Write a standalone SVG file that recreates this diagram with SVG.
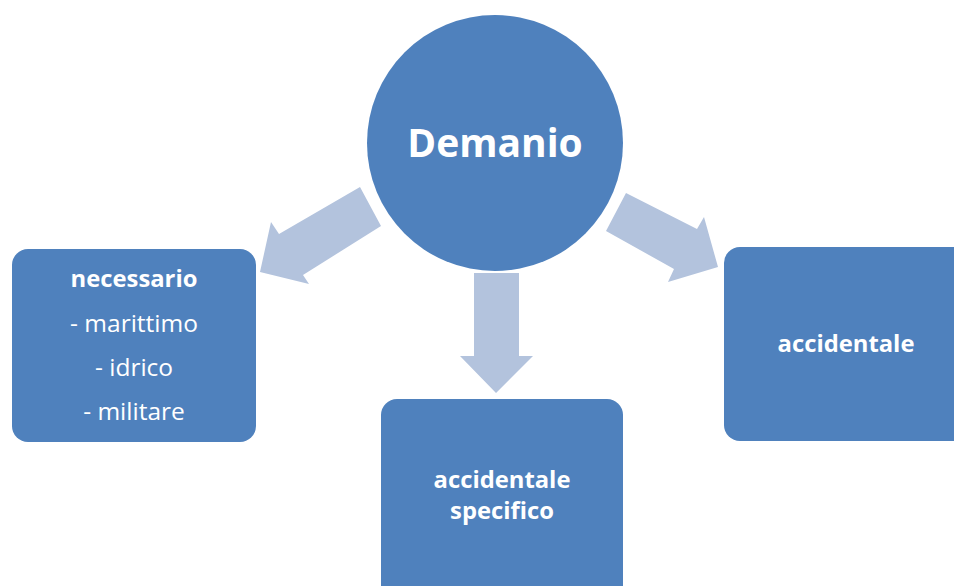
<svg xmlns="http://www.w3.org/2000/svg" width="954" height="586" viewBox="0 0 954 586">
<style>
.box{fill:#4F81BD}
.arr{fill:#B3C3DD}
text{font-family:"Open Sans","Noto Sans","Liberation Sans",sans-serif;fill:#FFFFFF;text-anchor:middle}
.b{font-weight:bold;font-size:23.8px}
.n{font-size:24.5px}
.t{font-weight:bold;font-size:39px}
</style>
<rect width="954" height="586" fill="#FFFFFF"/>
<g id="connectors">
<polygon class="arr" points="360,187 381,226 303,275 309,284 260,272 271,222 279,234"/>
<polygon class="arr" points="626,193 606,231 674,269 668,282 718,267 704,217 697,229"/>
<polygon class="arr" points="474,273 519,273 519,356 533,356 496,393 460,356 474,356"/>
</g>
<g id="demanio">
<circle class="box" cx="495" cy="143" r="128"/>
<text class="t" x="495" y="157">Demanio</text>
</g>
<g id="necessario">
<rect class="box" x="12" y="249" width="244" height="193" rx="16"/>
<text class="b" x="134" y="287">necessario</text>
<text class="n" x="134" y="332">- marittimo</text>
<text class="n" x="134" y="376">- idrico</text>
<text class="n" x="134" y="420">- militare</text>
</g>
<g id="accidentale-specifico">
<rect class="box" x="381" y="399" width="242" height="210" rx="16"/>
<text class="b" x="502" y="488">accidentale</text>
<text class="b" x="502" y="519">specifico</text>
</g>
<g id="accidentale">
<rect class="box" x="724" y="247" width="250" height="194" rx="16"/>
<text class="b" x="846" y="352">accidentale</text>
</g>
</svg>
